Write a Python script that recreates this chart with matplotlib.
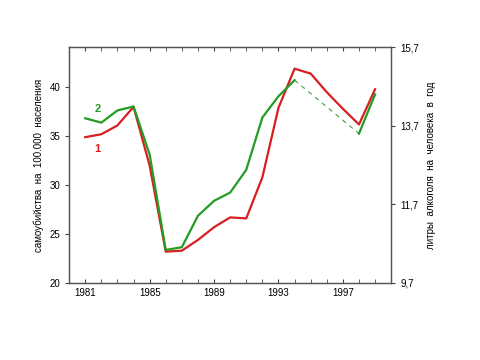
import matplotlib.pyplot as plt
from matplotlib.ticker import MultipleLocator

plt.rcParams['font.family'] = ['Liberation Sans', 'DejaVu Sans']

# suicides per 100 000 (left axis)
years = list(range(1981, 2000))
suicides = [34.9, 35.2, 36.1, 38.0, 32.0, 23.2, 23.3, 24.4, 25.7, 26.7, 26.6,
            30.8, 37.9, 41.9, 41.4, 39.5, 37.8, 36.2, 39.8]

# alcohol, litres per person per year (right axis)
alc_years = list(range(1981, 1995))
alcohol = [13.89, 13.78, 14.09, 14.19, 12.97, 10.54, 10.61, 11.41, 11.79, 12.0,
           12.58, 13.91, 14.45, 14.86]
gap_years = [1994, 1998]
gap_alcohol = [14.86, 13.5]
end_years = [1998, 1999]
end_alcohol = [13.5, 14.5]

red = '#d81e1e'
green = '#239c23'

fig = plt.figure(figsize=(4.8, 3.6), dpi=100)
ax = fig.add_axes([0.144, 0.214, 0.671, 0.655])
ax2 = ax.twinx()

ax.plot(years, suicides, color=red, lw=1.6, zorder=3)
ax2.plot(alc_years, alcohol, color=green, lw=1.6)
ax2.plot(gap_years, gap_alcohol, color='#4a9a4a', lw=0.8, ls=(0, (4, 4)))
ax2.plot(end_years, end_alcohol, color=green, lw=1.6)

ax.set_xlim(1980, 2000)
ax.set_ylim(20, 44.1)
ax2.set_ylim(9.7, 15.7)

ax.set_xticks([1981, 1985, 1989, 1993, 1997])
ax.xaxis.set_minor_locator(MultipleLocator(1))
ax.set_yticks([20, 25, 30, 35, 40])
ax2.set_yticks([9.7, 11.7, 13.7, 15.7])
ax2.set_yticklabels(['9,7', '11,7', '13,7', '15,7'])

ax.tick_params(axis='x', which='both', direction='in', top=True, length=3,
               labelsize=7, color='#444444')
ax.tick_params(axis='y', length=3, labelsize=7, color='#444444')
ax2.tick_params(axis='y', length=3, labelsize=7, color='#444444')

for a in (ax, ax2):
    for s in a.spines.values():
        s.set_color('#555555')
        s.set_linewidth(0.9)

ax.set_ylabel('самоубийства  на  100.000  населения', fontsize=7, labelpad=4)
ax2.set_ylabel('литры  алкоголя  на  человека  в  год', fontsize=7, labelpad=5)

ax.text(1981.75, 37.8, '2', color=green, fontsize=8, fontweight='bold',
        ha='center', va='center')
ax.text(1981.75, 33.7, '1', color=red, fontsize=8, fontweight='bold',
        ha='center', va='center')

fig.savefig('out.png', dpi=100)
